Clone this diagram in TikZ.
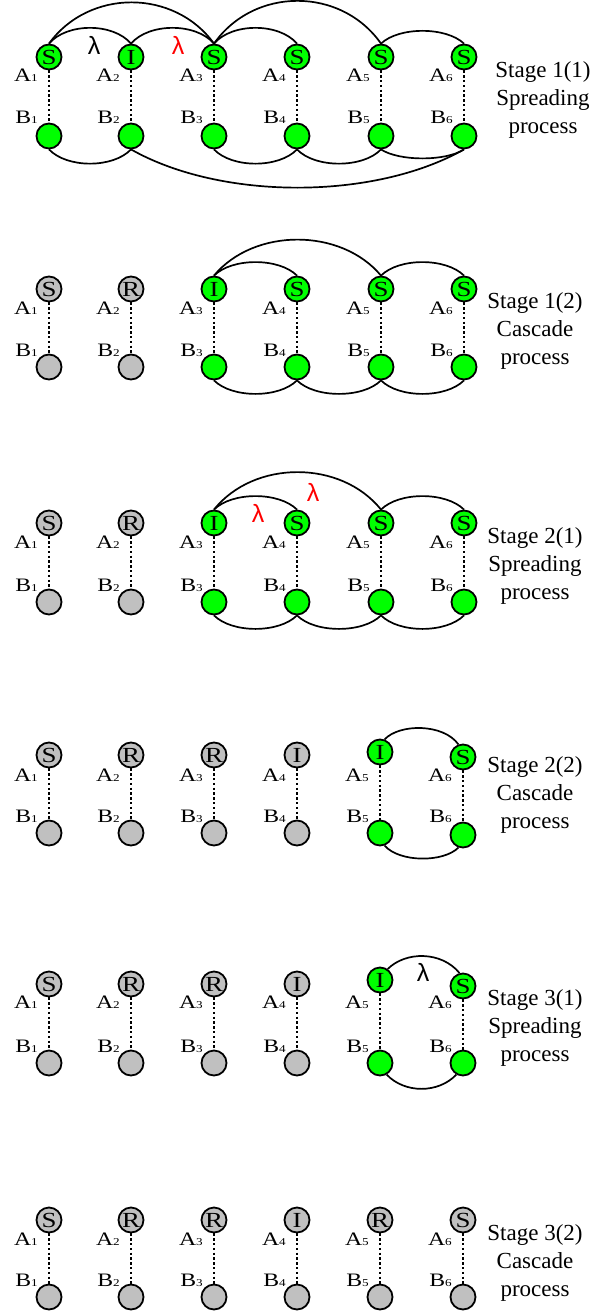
\documentclass[tikz,border=0pt]{standalone}
\usepackage{fontspec}
\setmainfont{Liberation Serif}
\newfontfamily\labfont[FakeStretch=1.25]{Liberation Serif}
\newfontfamily\lamfont{Liberation Sans}
\definecolor{ngreen}{RGB}{0,255,0}
\definecolor{ngray}{RGB}{192,192,192}
\newcommand{\dg}[1]{{\fontsize{10.5}{10.5}\selectfont #1}}
\begin{document}
\begin{tikzpicture}[x=1pt,y=-1pt]
\tikzset{
  nd/.style={circle, draw, line width=1.8pt, minimum size=25pt, inner sep=0pt, font=\labfont\fontsize{21.5}{21.5}\selectfont},
  link/.style={line width=1.8pt, dash pattern=on 2.4pt off 2.4pt},
  edge/.style={line width=1.7pt},
  lab/.style={anchor=base east, inner sep=0pt, font=\labfont\fontsize{19}{19}\selectfont},
  stg/.style={anchor=base, inner sep=0pt, font=\fontsize{23}{23}\selectfont},
  lam/.style={inner sep=0pt, font=\lamfont\fontsize{25}{25}\selectfont}
}
\useasboundingbox (0,0) rectangle (601,1311);

% ---------- Stage 1(1)
\foreach \i/\x/\t/\c/\ya/\yb in {1/49/S/ngreen/57/136,2/131/I/ngreen/57/136,3/214/S/ngreen/57/136,4/297/S/ngreen/57/136,5/381/S/ngreen/57/136,6/464/S/ngreen/57/136}{
  \node[nd, fill=\c] (s1a\i) at (\x,\ya) {\t};
  \node[nd, fill=\c] (s1b\i) at (\x,\yb) {};
  \draw[link] (s1a\i) -- (s1b\i);
  \node[lab] (s1la\i) at ({\x-11},82) {A\dg{\i}};
  \node[lab] (s1lb\i) at ({\x-11},124) {B\dg{\i}};
}
\draw[edge] (s1a1.north) .. controls +(40,-55) and +(-40,-55) .. (s1a3.north);
\draw[edge] (s1a3.north) .. controls +(40,-57) and +(-40,-57) .. (s1a5.north);
\draw[edge] (s1a1.north) .. controls +(18,-21) and +(-18,-21) .. (s1a2.north);
\draw[edge] (s1a2.north) .. controls +(18,-21) and +(-18,-21) .. (s1a3.north);
\draw[edge] (s1a3.north) .. controls +(18,-21) and +(-18,-21) .. (s1a4.north);
\draw[edge] (s1a5.north) .. controls +(18,-17) and +(-18,-17) .. (s1a6.north);
\draw[edge] (s1b1.south) .. controls +(18,19) and +(-18,19) .. (s1b2.south);
\draw[edge] (s1b2.south) .. controls +(90,51) and +(-90,51) .. (s1b6.south);
\draw[edge] (s1b3.south) .. controls +(18,19) and +(-18,19) .. (s1b4.south);
\draw[edge] (s1b4.south) .. controls +(18,19) and +(-18,19) .. (s1b5.south);
\draw[edge] (s1b5.south) .. controls +(18,12) and +(-18,12) .. (s1b6.south);
\node[lam] (lam1) at (94,45) {λ};
\node[lam, text=red] (lam2) at (178,45) {λ};
\node[stg] (t1a) at (543,78) {Stage 1(1)};
\node[stg] (t1b) at (543,106) {Spreading};
\node[stg] (t1c) at (543,134) {process};

% ---------- Stage 1(2)
\foreach \i/\x/\t/\c/\ya/\yb in {1/49/S/ngray/289/367,2/131/R/ngray/289/367,3/214/I/ngreen/289/367,4/297/S/ngreen/289/367,5/381/S/ngreen/289/367,6/464/S/ngreen/289/367}{
  \node[nd, fill=\c] (s2a\i) at (\x,\ya) {\t};
  \node[nd, fill=\c] (s2b\i) at (\x,\yb) {};
  \draw[link] (s2a\i) -- (s2b\i);
  \node[lab] (s2la\i) at ({\x-11},314) {A\dg{\i}};
  \node[lab] (s2lb\i) at ({\x-11},356) {B\dg{\i}};
}
\draw[edge] (s2a3.north) .. controls +(40,-48) and +(-40,-48) .. (s2a5.north);
\draw[edge] (s2a3.north) .. controls +(18,-18) and +(-18,-18) .. (s2a4.north);
\draw[edge] (s2a5.north) .. controls +(18,-18) and +(-18,-18) .. (s2a6.north);
\draw[edge] (s2b3.south) .. controls +(18,18) and +(-18,18) .. (s2b4.south);
\draw[edge] (s2b4.south) .. controls +(18,18) and +(-18,18) .. (s2b5.south);
\draw[edge] (s2b5.south) .. controls +(18,18) and +(-18,18) .. (s2b6.south);
\node[stg] (t2a) at (535,308) {Stage 1(2)};
\node[stg] (t2b) at (535,336) {Cascade};
\node[stg] (t2c) at (535,364) {process};

% ---------- Stage 2(1)
\foreach \i/\x/\t/\c/\ya/\yb in {1/49/S/ngray/523/602,2/131/R/ngray/523/602,3/214/I/ngreen/523/602,4/297/S/ngreen/523/602,5/381/S/ngreen/523/602,6/464/S/ngreen/523/602}{
  \node[nd, fill=\c] (s3a\i) at (\x,\ya) {\t};
  \node[nd, fill=\c] (s3b\i) at (\x,\yb) {};
  \draw[link] (s3a\i) -- (s3b\i);
  \node[lab] (s3la\i) at ({\x-11},548) {A\dg{\i}};
  \node[lab] (s3lb\i) at ({\x-11},591) {B\dg{\i}};
}
\draw[edge] (s3a3.north) .. controls +(40,-50) and +(-40,-50) .. (s3a5.north);
\draw[edge] (s3a3.north) .. controls +(18,-18) and +(-18,-18) .. (s3a4.north);
\draw[edge] (s3a5.north) .. controls +(18,-18) and +(-18,-18) .. (s3a6.north);
\draw[edge] (s3b3.south) .. controls +(18,18) and +(-18,18) .. (s3b4.south);
\draw[edge] (s3b4.south) .. controls +(18,18) and +(-18,18) .. (s3b5.south);
\draw[edge] (s3b5.south) .. controls +(18,18) and +(-18,18) .. (s3b6.south);
\node[lam, text=red] (lam3) at (313,492) {λ};
\node[lam, text=red] (lam4) at (258,513) {λ};
\node[stg] (t3a) at (535,543) {Stage 2(1)};
\node[stg] (t3b) at (535,571) {Spreading};
\node[stg] (t3c) at (535,599) {process};

% ---------- Stage 2(2)
\foreach \i/\x/\t/\c/\ya/\yb in {1/49/S/ngray/755/833,2/131/R/ngray/755/833,3/214/R/ngray/755/833,4/297/I/ngray/755/833,5/380/I/ngreen/752/833,6/463/S/ngreen/757/835}{
  \node[nd, fill=\c] (s4a\i) at (\x,\ya) {\t};
  \node[nd, fill=\c] (s4b\i) at (\x,\yb) {};
  \draw[link] (s4a\i) -- (s4b\i);
  \node[lab] (s4la\i) at ({\x-11},781) {A\dg{\i}};
  \node[lab] (s4lb\i) at ({\x-11},822) {B\dg{\i}};
}
\draw[edge] (s4a5.70) .. controls +(15,-16) and +(-15,-21) .. (s4a6.110);
\draw[edge] (s4b5.-70) .. controls +(15,17) and +(-15,15) .. (s4b6.-110);
\node[stg] (t4a) at (535,772) {Stage 2(2)};
\node[stg] (t4b) at (535,800) {Cascade};
\node[stg] (t4c) at (535,828) {process};

% ---------- Stage 3(1)
\foreach \i/\x/\t/\c/\ya/\yb in {1/49/S/ngray/984/1063,2/131/R/ngray/984/1063,3/214/R/ngray/984/1063,4/297/I/ngray/984/1063,5/380/I/ngreen/980/1063,6/463/S/ngreen/986/1063}{
  \node[nd, fill=\c] (s5a\i) at (\x,\ya) {\t};
  \node[nd, fill=\c] (s5b\i) at (\x,\yb) {};
  \draw[link] (s5a\i) -- (s5b\i);
  \node[lab] (s5la\i) at ({\x-11},1008) {A\dg{\i}};
  \node[lab] (s5lb\i) at ({\x-11},1052) {B\dg{\i}};
}
\draw[edge] (s5a5.55) .. controls +(18,-18) and +(-18,-22) .. (s5a6.105);
\draw[edge] (s5b5.-60) .. controls +(18,19) and +(-18,19) .. (s5b6.-120);
\node[lam] (lam5) at (423,972) {λ};
\node[stg] (t5a) at (535,1005) {Stage 3(1)};
\node[stg] (t5b) at (535,1033) {Spreading};
\node[stg] (t5c) at (535,1061) {process};

% ---------- Stage 3(2)
\foreach \i/\x/\t/\c/\ya/\yb in {1/49/S/ngray/1220/1297,2/131/R/ngray/1220/1297,3/214/R/ngray/1220/1297,4/297/I/ngray/1220/1297,5/380/R/ngray/1220/1297,6/463/S/ngray/1220/1297}{
  \node[nd, fill=\c] (s6a\i) at (\x,\ya) {\t};
  \node[nd, fill=\c] (s6b\i) at (\x,\yb) {};
  \draw[link] (s6a\i) -- (s6b\i);
  \node[lab] (s6la\i) at ({\x-11},1245) {A\dg{\i}};
  \node[lab] (s6lb\i) at ({\x-11},1286) {B\dg{\i}};
}
\node[stg] (t6a) at (535,1240) {Stage 3(2)};
\node[stg] (t6b) at (535,1268) {Cascade};
\node[stg] (t6c) at (535,1296) {process};
\end{tikzpicture}
\end{document}
